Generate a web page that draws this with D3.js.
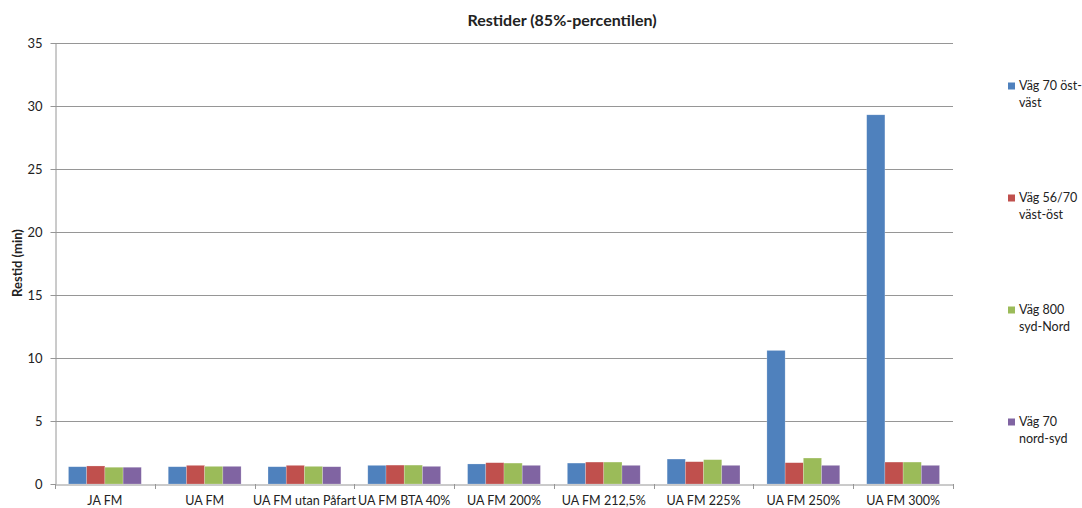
<!DOCTYPE html>
<html>
<head>
<meta charset="utf-8">
<script src="https://cdn.jsdelivr.net/npm/d3@7"></script>
<style>
  body { margin: 0; background: #fff; }
  text { font-family: Lato, "Open Sans", sans-serif; fill: #222; }
</style>
</head>
<body>
<div id="chart"></div>
<script>
// Data
var categories = ['JA FM', 'UA FM', 'UA FM utan Påfart', 'UA FM BTA 40%', 'UA FM 200%',
                  'UA FM 212,5%', 'UA FM 225%', 'UA FM 250%', 'UA FM 300%'];
var seriesNames = ['Väg 70 öst-väst', 'Väg 56/70 väst-öst', 'Väg 800 syd-Nord', 'Väg 70 nord-syd'];
var legendLines = [['Väg 70 öst-', 'väst'], ['Väg 56/70', 'väst-öst'], ['Väg 800', 'syd-Nord'], ['Väg 70', 'nord-syd']];
var vag70OstVast  = [1.37, 1.37, 1.37, 1.48, 1.59, 1.66, 1.98, 10.6, 29.3];
var vag5670VastOst = [1.43, 1.48, 1.48, 1.50, 1.69, 1.74, 1.77, 1.69, 1.74];
var vag800SydNord = [1.33, 1.40, 1.40, 1.50, 1.66, 1.74, 1.93, 2.06, 1.74];
var vag70NordSyd  = [1.33, 1.40, 1.37, 1.40, 1.48, 1.48, 1.48, 1.48, 1.48];
var yTicks = [0, 5, 10, 15, 20, 25, 30, 35];
var colors = ['#4F81BD', '#C0504D', '#9BBB59', '#8064A2'];

var seriesValues = [vag70OstVast, vag5670VastOst, vag800SydNord, vag70NordSyd];

// plot area
var W = 1082, H = 508;
var plotLeft = 55, plotRight = 953, plotTop = 43, plotBottom = 484;

var svg = d3.select('#chart').append('svg')
  .attr('width', W).attr('height', H);

var x0 = d3.scaleBand().domain(categories).range([plotLeft, plotRight]).padding(0);
var gap = x0.bandwidth() * 0.135;
var x1 = d3.scaleBand().domain(seriesNames).range([gap, x0.bandwidth() - gap]).padding(0);
var y = d3.scaleLinear().domain([0, 35]).range([plotBottom, plotTop]);
var z = d3.scaleOrdinal().domain(seriesNames).range(colors);

// gridlines
svg.append('g')
  .selectAll('line')
  .data(yTicks.slice(1))
  .enter().append('line')
  .attr('x1', plotLeft).attr('x2', plotRight)
  .attr('y1', function(d) { return Math.round(y(d)) + 0.5; })
  .attr('y2', function(d) { return Math.round(y(d)) + 0.5; })
  .attr('stroke', '#969696')
  .attr('stroke-width', 1);

// bars
var rows = categories.map(function(c, i) {
  return { cat: c, vals: seriesNames.map(function(s, j) { return { key: s, value: seriesValues[j][i] }; }) };
});

svg.append('g')
  .selectAll('g')
  .data(rows)
  .enter().append('g')
  .attr('transform', function(d) { return 'translate(' + x0(d.cat) + ',0)'; })
  .selectAll('rect')
  .data(function(d) { return d.vals; })
  .enter().append('rect')
  .attr('x', function(d) { return x1(d.key); })
  .attr('y', function(d) { return y(d.value); })
  .attr('width', x1.bandwidth())
  .attr('height', function(d) { return y(0) - y(d.value); })
  .attr('fill', function(d) { return z(d.key); })
  .attr('stroke', 'rgba(255,255,255,0.35)')
  .attr('stroke-width', 0.6);

// y axis
var yAxis = d3.axisLeft(y).tickValues(yTicks).tickSizeInner(5).tickSizeOuter(0).tickPadding(8);
var gy = svg.append('g')
  .attr('transform', 'translate(' + (plotLeft + 0.5) + ',0)')
  .call(yAxis);
gy.selectAll('line, path').attr('stroke', '#969696');
gy.selectAll('text').style('font-size', '13px').attr('fill', '#222');

// x axis
var xAxis = d3.axisBottom(x0).tickSize(0).tickPadding(12);
var gx = svg.append('g')
  .attr('transform', 'translate(0,' + (plotBottom + 0.5) + ')')
  .call(xAxis);
gx.select('path').attr('stroke', '#969696');
gx.selectAll('text').style('font-size', '12.5px').attr('fill', '#222');

// category separator ticks
svg.append('g')
  .selectAll('line')
  .data(categories.concat(['end']))
  .enter().append('line')
  .attr('x1', function(d, i) { return Math.round(plotLeft + i * x0.step()) + 0.5; })
  .attr('x2', function(d, i) { return Math.round(plotLeft + i * x0.step()) + 0.5; })
  .attr('y1', plotBottom).attr('y2', plotBottom + 5)
  .attr('stroke', '#969696');

// title
svg.append('text')
  .attr('x', 562).attr('y', 20)
  .attr('dy', '0.35em')
  .attr('text-anchor', 'middle')
  .style('font-size', '16px')
  .style('font-weight', 'bold')
  .text('Restider (85%-percentilen)');

// y axis title
svg.append('text')
  .attr('transform', 'translate(17,263) rotate(-90)')
  .attr('dy', '0.35em')
  .attr('text-anchor', 'middle')
  .style('font-size', '13px')
  .style('font-weight', 'bold')
  .text('Restid (min)');

// legend
var legend = svg.append('g')
  .selectAll('g')
  .data(seriesNames)
  .enter().append('g')
  .attr('transform', function(d, i) { return 'translate(1008,' + (86 + i * 112) + ')'; });

legend.append('rect')
  .attr('x', 0).attr('y', -3.5)
  .attr('width', 7).attr('height', 7)
  .attr('fill', z);

legend.append('text')
  .attr('x', 11)
  .style('font-size', '12.5px')
  .selectAll('tspan')
  .data(function(d, i) { return legendLines[i]; })
  .enter().append('tspan')
  .attr('x', 11)
  .attr('y', function(d, i) { return i * 17; })
  .attr('dy', '0.35em')
  .text(function(d) { return d; });
</script>
</body>
</html>
